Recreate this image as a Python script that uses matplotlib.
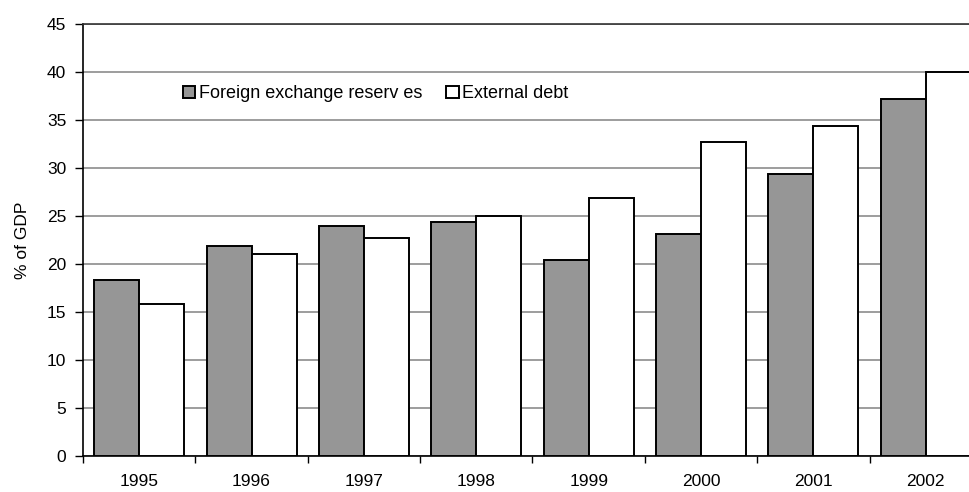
import matplotlib
matplotlib.use("Agg")
import matplotlib.pyplot as plt
from matplotlib.patches import Patch
import numpy as np

years = ["1995", "1996", "1997", "1998", "1999", "2000", "2001", "2002"]
reserves = [18.3, 21.9, 24.0, 24.4, 20.4, 23.1, 29.4, 37.15]
debt = [15.8, 21.05, 22.75, 25.0, 26.9, 32.7, 34.4, 40.0]
series_labels = ["Foreign exchange reserv es", "External debt"]
y_ticks = list(range(0, 50, 5))

plt.rcParams['font.family'] = ['Liberation Sans', 'DejaVu Sans']

fig = plt.figure(figsize=(9.7, 4.92), dpi=100)
ax = fig.add_axes([83/970, 36/492, 899/970, 432/492])

x = np.arange(len(years))
w = 0.4
ax.bar(x - w/2, reserves, width=w, color='#969696', edgecolor='black', linewidth=1.4, zorder=3)
ax.bar(x + w/2, debt, width=w, color='white', edgecolor='black', linewidth=1.4, zorder=3)

ax.set_xlim(-0.5, len(years) - 0.5)
ax.set_ylim(0, 45)
ax.set_yticks(y_ticks)
ax.set_yticklabels([str(t) for t in y_ticks], fontsize=12.5)
ax.yaxis.grid(True, color='#8c8c8c', linewidth=1.2, zorder=0)
ax.set_axisbelow(True)

ax.set_xticks(x)
ax.set_xticklabels(years, fontsize=12.5)
ax.tick_params(axis='x', which='major', length=0, pad=13)
ax.set_xticks(np.arange(-0.5, len(years), 1), minor=True)
ax.tick_params(axis='x', which='minor', length=5, width=1, direction='out')
ax.tick_params(axis='y', length=6, width=1, direction='out', pad=6)

for s in ['left', 'bottom', 'top']:
    ax.spines[s].set_color('black')
    ax.spines[s].set_linewidth(1.2)
ax.spines['top'].set_color('#333333')
ax.spines['right'].set_visible(False)

ax.set_ylabel("% of GDP", fontsize=12.5, labelpad=12)

handles = [Patch(facecolor='#969696', edgecolor='black', linewidth=1.4),
           Patch(facecolor='white', edgecolor='black', linewidth=1.4)]
ax.legend(handles, series_labels, loc='center left', bbox_to_anchor=(0.111, 0.838),
          ncol=2, frameon=False, fontsize=13, handlelength=0.7, handleheight=0.7,
          handletextpad=0.2, columnspacing=1.3, borderpad=0, borderaxespad=0)

fig.savefig("out.png", dpi=100)
